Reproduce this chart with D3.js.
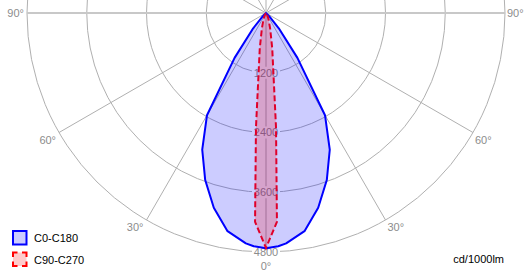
<!DOCTYPE html>
<html>
<head>
<meta charset="utf-8">
<script src="https://cdn.jsdelivr.net/npm/d3@7"></script>
<style>
  body { margin: 0; background: #fff; }
  svg { display: block; font-family: "Liberation Sans", Arial, sans-serif; }
</style>
</head>
<body>
<svg id="chart" width="530" height="280"></svg>
<script>
// polar angles (deg from nadir) and intensities in cd/1000lm
const angles = [0, 3, 5, 10, 15, 20, 25, 30, 35, 40, 45, 50, 60, 70, 80, 90];
const c0c180 = [4725, 4690, 4645, 4450, 4050, 3570, 3030, 2370, 1100, 400, 90, 0, 0, 0, 0, 0];
const c90c270 = [4720, 4200, 2310, 720, 320, 160, 90, 40, 10, 0, 0, 0, 0, 0, 0, 0];
const ringValues = [1200, 2400, 3600, 4800];
const spokeAngles = [0, 30, 60, 90, 120, 150, 180, 210, 240, 270, 300, 330];
const angleLabels = [0, 30, 60, 90];
const seriesNames = ['C0-C180', 'C90-C270'];
const unitLabel = 'cd/1000lm';

const cx = 266, cy = 13;
const rad = d3.scaleLinear().domain([0, 4800]).range([0, 239]);
const svg = d3.select('#chart');

function pt(a, r) {
  const t = a * Math.PI / 180;
  return [cx + r * Math.sin(t), cy + r * Math.cos(t)];
}

const grid = svg.append('g');
// rings
grid.selectAll('circle').data(ringValues).enter().append('circle')
  .attr('cx', cx).attr('cy', cy).attr('r', d => rad(d))
  .attr('fill', 'none').attr('stroke', '#b0b0b0').attr('stroke-width', 1);
// spokes
grid.selectAll('line.spoke').data(spokeAngles.filter(a => a % 180 !== 90)).enter().append('line')
  .attr('class', 'spoke')
  .attr('x1', cx).attr('y1', cy)
  .attr('x2', d => pt(d, rad(4800))[0]).attr('y2', d => pt(d, rad(4800))[1])
  .attr('stroke', '#b0b0b0').attr('stroke-width', 1);
grid.append('line')
  .attr('x1', pt(-90, rad(4800))[0]).attr('y1', cy)
  .attr('x2', pt(90, rad(4800))[0]).attr('y2', cy)
  .attr('stroke', '#c8c8c8').attr('stroke-width', 2);

// ring value labels with white backing
const rl = grid.selectAll('g.rlab').data(ringValues).enter().append('g')
  .attr('class', 'rlab')
  .attr('transform', d => `translate(${cx},${cy + rad(d)})`);
rl.append('rect').attr('x', -14).attr('y', -6).attr('width', 28).attr('height', 12).attr('fill', '#fff');
rl.append('text').attr('text-anchor', 'middle').attr('dy', '0.36em')
  .attr('font-size', 11).attr('fill', '#8c8c8c').text(d => d);

// angle labels
const R = rad(4800);
angleLabels.forEach(a => {
  [-1, 1].forEach(s => {
    if (a === 0 && s === 1) return;
    const p = pt(a * s, R);
    const t = grid.append('text').attr('font-size', 11).attr('fill', '#8c8c8c').text(a + '°');
    if (a === 0) {
      t.attr('x', p[0]).attr('y', p[1] + 18).attr('text-anchor', 'middle');
    } else {
      t.attr('x', p[0] + (s < 0 ? -3 : 2))
        .attr('y', p[1] + (a === 90 ? 4 : 11))
        .attr('text-anchor', s < 0 ? 'end' : 'start');
    }
  });
});

// curves
function polarPoints(vals) {
  const right = angles.map((a, i) => ({ a: a, v: vals[i] }));
  const left = angles.slice(1).map((a, i) => ({ a: -a, v: vals[i + 1] })).reverse();
  return left.concat(right);
}
const radial = d3.lineRadial()
  .angle(d => Math.PI - d.a * Math.PI / 180)
  .radius(d => rad(d.v))
  .curve(d3.curveLinearClosed);

const curves = svg.append('g').attr('transform', `translate(${cx},${cy})`);
curves.append('path').attr('d', radial(polarPoints(c0c180)))
  .attr('fill', 'rgba(0,0,255,0.2)').attr('stroke', 'none');
curves.append('path').attr('d', radial(polarPoints(c90c270)))
  .attr('fill', 'rgba(255,0,0,0.2)').attr('stroke', 'none');
curves.append('path').attr('d', radial(polarPoints(c0c180)))
  .attr('fill', 'none').attr('stroke', '#0000ff').attr('stroke-width', 2).attr('stroke-linejoin', 'round');
curves.append('path').attr('d', radial(polarPoints(c90c270)))
  .attr('fill', 'none').attr('stroke', '#e0002a').attr('stroke-width', 2)
  .attr('stroke-dasharray', '6,3');

// legend
const legend = svg.append('g');
const styles = [
  { fill: '#ccccff', stroke: '#0000ff', dash: null },
  { fill: '#ffcccc', stroke: '#ff0000', dash: '9,4.5' }
];
seriesNames.forEach((n, i) => {
  const y = 231 + i * 21.5;
  legend.append('rect').attr('x', 13).attr('y', y).attr('width', 13.5).attr('height', 13.5)
    .attr('fill', styles[i].fill).attr('stroke', styles[i].stroke).attr('stroke-width', 2)
    .attr('stroke-dasharray', styles[i].dash).attr('stroke-dashoffset', styles[i].dash ? 4.5 : null);
  legend.append('text').attr('x', 34).attr('y', y + 11).attr('font-size', 11).attr('fill', '#000').text(n);
});
svg.append('text').attr('x', 504).attr('y', 263).attr('text-anchor', 'end')
  .attr('font-size', 11).attr('fill', '#000').text(unitLabel);
</script>
</body>
</html>
